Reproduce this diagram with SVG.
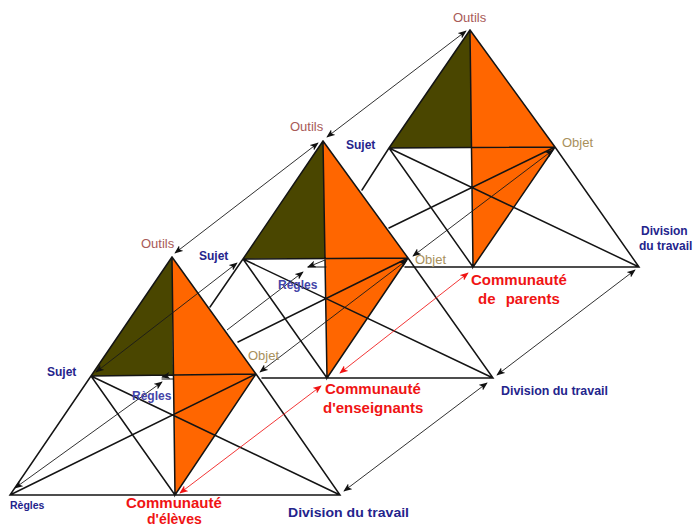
<svg xmlns="http://www.w3.org/2000/svg" width="693" height="527" viewBox="0 0 693 527">
<style>
text{font-family:"Liberation Sans",Arial,sans-serif}
.o{fill:#ff6600}.k{fill:#4a4600}
.l{stroke:#141414;stroke-width:1.5;fill:none;stroke-linecap:round}
.a{stroke:#1a1a1a;stroke-width:.9;fill:none;marker-start:url(#h);marker-end:url(#h)}
.e{stroke:#1a1a1a;stroke-width:.9;fill:none;marker-end:url(#h)}
.r{stroke:#f02020;stroke-width:.9;fill:none;marker-start:url(#hr);marker-end:url(#hr)}
.ou{font-size:13px;fill:#a85a58}
.ob{font-size:13px;fill:#a8905c}
.su{font-size:12px;font-weight:bold;fill:#24248c}
.re{font-size:12px;font-weight:bold;fill:#4444a8}
.di{font-size:12px;font-weight:bold;fill:#24248c}
.co{font-size:15px;font-weight:bold;fill:#f01414}
</style>
<defs>
<marker id="h" viewBox="0 0 10 8" refX="9" refY="4" markerWidth="9" markerHeight="7" markerUnits="userSpaceOnUse" orient="auto-start-reverse"><path d="M0 0L10 4L0 8L2.5 4Z" fill="#111"/></marker>
<marker id="hr" viewBox="0 0 10 8" refX="9" refY="4" markerWidth="9" markerHeight="7" markerUnits="userSpaceOnUse" orient="auto-start-reverse"><path d="M0 0L10 4L0 8L2.5 4Z" fill="#f01414"/></marker>
</defs>

<g id="triangle-parents">
<path class="k" d="M470 30L389 148L472 148Z"/>
<path class="o" d="M470 30L555 147L473 267Z"/>
<path class="l" d="M470 30L389 148L362 190M470 30L555 147L639 267L405 267M470 30L473 267L555 147M389 148L555 147L389 228M389 148L473 267M389 148L639 267"/>
</g>
<g id="triangle-enseignants">
<path class="k" d="M323 141L243 259L325 258Z"/>
<path class="o" d="M323 141L408 258L327 378Z"/>
<path class="l" d="M323 141L243 259L210 307M323 141L408 258L493 378L262 378M323 141L327 378L408 258M243 259L408 258L238 342M243 259L327 378M243 259L493 378"/>
</g>
<g id="triangle-eleves">
<path class="k" d="M172 257L91 376L173 375Z"/>
<path class="o" d="M172 257L256 374L175 495Z"/>
<path class="l" d="M172 257L91 376L10 495L340 495L256 374L172 257M172 257L175 495L256 374M91 376L256 374L10 495M91 376L175 495M91 376L340 495"/>
</g>

<g id="connectors">
<path class="a" d="M466 31L327 137"/>
<path class="a" d="M318 143L175 253"/>
<path class="a" d="M237 263L96 372"/>
<path class="a" d="M553 150L413 256"/>
<path class="a" d="M407 260L260 372"/>
<path class="a" d="M635 270L497 375"/>
<path class="a" d="M487 383L344 491"/>
<path class="a" d="M15 488L162 382"/>
<path class="e" d="M227 330L303 272"/>
<path class="e" d="M325 260L308 267"/>
<path class="l" d="M308 267L326 267" style="stroke-width:1"/>
<path class="e" d="M172 375L162 377"/>
<path class="l" d="M162 379L173 379" style="stroke-width:1"/>
<path class="r" d="M468 273L340 373"/>
<path class="r" d="M321 386L180 493"/>
</g>

<g id="labels">
<text class="ou" x="453" y="22">Outils</text>
<text class="ou" x="290" y="131">Outils</text>
<text class="ou" x="141" y="248">Outils</text>
<text class="su" x="346" y="149">Sujet</text>
<text class="su" x="199" y="260">Sujet</text>
<text class="su" x="47" y="376">Sujet</text>
<text class="ob" x="562" y="147">Objet</text>
<text class="ob" x="415" y="264">Objet</text>
<text class="ob" x="248" y="360">Objet</text>
<text class="re" x="278" y="289">Règles</text>
<text class="re" x="132" y="400">Règles</text>
<text class="su" x="10" y="509" style="font-size:10.5px">Règles</text>
<text class="co" x="126" y="508">Communauté</text>
<text class="co" x="147" y="523.5" style="font-size:14px">d'élèves</text>
<text class="co" x="325" y="394">Communauté</text>
<text class="co" x="323" y="413">d'enseignants</text>
<text class="co" x="471" y="285">Communauté</text>
<text class="co" x="478" y="304" word-spacing="6">de parents</text>
<text class="di" x="288" y="517" textLength="121" lengthAdjust="spacingAndGlyphs">Division du travail</text>
<text class="di" x="501" y="395" textLength="107" lengthAdjust="spacingAndGlyphs">Division du travail</text>
<text class="di" x="641" y="235">Division</text>
<text class="di" x="639" y="250">du travail</text>
</g>
</svg>
